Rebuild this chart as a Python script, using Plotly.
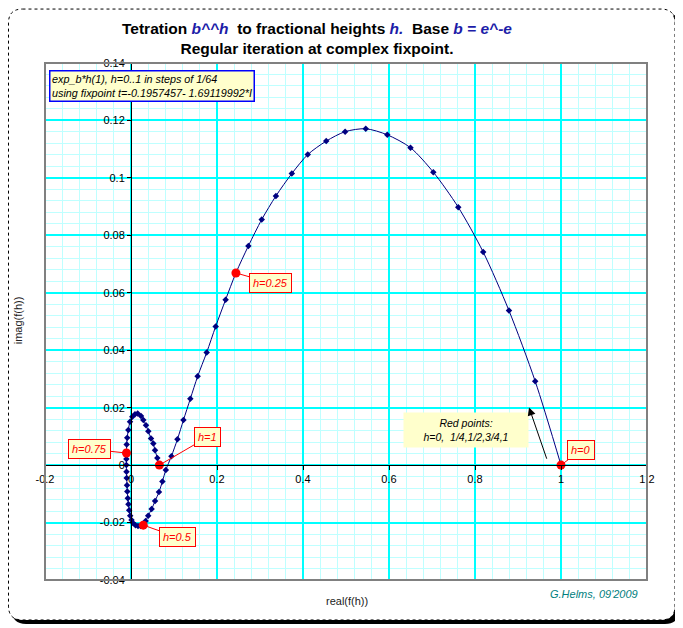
import plotly.graph_objects as go

# f(h) = exp_b^h(1), h = 0..1 in steps of 1/64
h_steps = 64
real_f = [1.000, 0.940, 0.879, 0.819, 0.761, 0.703, 0.650, 0.596, 0.546, 0.498, 0.454, 0.411, 0.374, 0.337, 0.304, 0.273, 0.244,
          0.220, 0.197, 0.176, 0.155, 0.138, 0.122, 0.108, 0.094, 0.081, 0.073, 0.065, 0.056, 0.048, 0.040, 0.034, 0.0286,
          0.0221, 0.0163, 0.0105, 0.0053, 0.0012, -0.0019, -0.0042, -0.0060, -0.0074, -0.0086, -0.0093, -0.0100, -0.0105, -0.0107, -0.0107, -0.0105,
          -0.0100, -0.0088, -0.0063, -0.0023, 0.0030, 0.0093, 0.0156, 0.0233, 0.0286, 0.0349, 0.0402, 0.0465, 0.0519, 0.0558, 0.0612, 0.0660]
imag_f = [0.0, 0.0292, 0.0538, 0.0742, 0.0898, 0.1020, 0.1105, 0.1150, 0.1171, 0.1161, 0.1128, 0.1081, 0.1015, 0.0937, 0.0855, 0.0763, 0.0669,
          0.0576, 0.0483, 0.0392, 0.0309, 0.0231, 0.0157, 0.0090, 0.0031, -0.0017, -0.0057, -0.0094, -0.0125, -0.0153, -0.0176, -0.0195, -0.0209,
          -0.0212, -0.0212, -0.0209, -0.0202, -0.0191, -0.0176, -0.0157, -0.0136, -0.0115, -0.0092, -0.0070, -0.0045, -0.0023, 0.0000, 0.0021, 0.0042,
          0.0072, 0.0095, 0.0122, 0.0151, 0.0168, 0.0177, 0.0180, 0.0171, 0.0157, 0.0139, 0.0118, 0.0093, 0.0075, 0.0052, 0.0025, 0.0]

red_h = [0, 0.25, 0.5, 0.75, 1]
red_labels = ["h=0", "h=0.25", "h=0.5", "h=0.75", "h=1"]

x_ticks = [-0.2, 0, 0.2, 0.4, 0.6, 0.8, 1, 1.2]
x_ticklabels = ["-0.2", "0", "0.2", "0.4", "0.6", "0.8", "1", "1.2"]
y_ticks = [-0.04, -0.02, 0, 0.02, 0.04, 0.06, 0.08, 0.1, 0.12, 0.14]
y_ticklabels = ["-0.04", "-0.02", "0", "0.02", "0.04", "0.06", "0.08", "0.1", "0.12", "0.14"]

W, H = 683, 628
OFF = 8  # page body margin, figure lands 8px right/down in the window
ML, MR, MT, MB = 37, 44, 54.5, 56
PW, PH = W - ML - MR, H - MT - MB
FONT = "Liberation Sans, Arial, sans-serif"
NAVY = "#000080"


def px(x, y):
    # window pixel -> paper coordinates
    return (x - OFF - ML) / PW, (H - MB - (y - OFF)) / PH


def round_rect(x0, y0, x1, y1, r):
    def p(x, y):
        a, b = px(x, y)
        return f"{a:.5f},{b:.5f}"
    return ("M " + p(x0 + r, y0) + " L " + p(x1 - r, y0) + " Q " + p(x1, y0) + " " + p(x1, y0 + r)
            + " L " + p(x1, y1 - r) + " Q " + p(x1, y1) + " " + p(x1 - r, y1)
            + " L " + p(x0 + r, y1) + " Q " + p(x0, y1) + " " + p(x0, y1 - r)
            + " L " + p(x0, y0 + r) + " Q " + p(x0, y0) + " " + p(x0 + r, y0) + " Z")


red_idx = [int(round(h * h_steps)) for h in red_h]
red_x = [real_f[i] for i in red_idx]
red_y = [imag_f[i] for i in red_idx]

fig = go.Figure()
fig.add_trace(go.Scatter(
    x=real_f, y=imag_f, mode="lines+markers",
    line=dict(color=NAVY, width=1, shape="spline", smoothing=0.8),
    marker=dict(symbol="diamond", size=5, color=NAVY),
    showlegend=False,
))
fig.add_trace(go.Scatter(
    x=red_x, y=red_y, mode="markers",
    marker=dict(size=9, color="#FF0000"),
    showlegend=False,
))

# callout boxes for the red points
offsets = [(20, -15), (35, 10), (34, 12), (-37, -4), (48, -28)]
for xv, yv, lab, (dx, dy) in zip(red_x, red_y, red_labels, offsets):
    fig.add_annotation(
        x=xv, y=yv, text="<i>" + lab + "</i>", showarrow=True, ax=dx, ay=dy,
        arrowhead=0, arrowcolor="#FF0000", arrowwidth=1, standoff=3,
        font=dict(family=FONT, size=11, color="#FF0000"),
        bgcolor="#FFFFCC", bordercolor="#FF0000", borderwidth=1, borderpad=3,
    )

# note and its arrow
fig.add_annotation(
    x=0.779, y=0.01235, xref="x", yref="y",
    text="<i>Red points:</i><br><i>h=0,  1/4,1/2,3/4,1</i>", showarrow=False,
    font=dict(family=FONT, size=10.5, color="#000000"),
    bgcolor="#FFFFCC", width=122, height=32, align="center",
)
fig.add_annotation(
    x=0.9256, y=0.0201, ax=0.968, ay=0.0017, axref="x", ayref="y",
    text="", showarrow=True, arrowhead=2, arrowsize=1.6, arrowwidth=1, arrowcolor="#000000",
)

lx, ly = px(48.5, 69.5)
fig.add_annotation(
    x=lx, y=ly, xref="paper", yref="paper", xanchor="left", yanchor="top",
    text="<i>exp_b*h(1), h=0..1 in steps of 1/64</i><br><i>using fixpoint t=-0.1957457- 1.69119992*I</i>",
    showarrow=False, align="left",
    font=dict(family=FONT, size=10.8, color="#000000"),
    bgcolor="#FFFFCC", bordercolor="#0000FF", borderwidth=1.5, borderpad=1.5,
)

blue = "<span style='color:#1C1CA8'><i>"
tx, ty = px(317, 37.5)
fig.add_annotation(
    x=tx, y=ty, xref="paper", yref="paper", xanchor="center", yanchor="middle", showarrow=False,
    text="<b>Tetration " + blue + "b^^h</i></span>  to fractional heights " + blue + "h.</i></span>  Base "
         + blue + "b = e^-e</i></span></b><br><b>Regular iteration at complex fixpoint.</b>",
    font=dict(family=FONT, size=15.5, color="#000000"),
)
ax_x, ax_y = px(347, 601)
fig.add_annotation(x=ax_x, y=ax_y, xref="paper", yref="paper", xanchor="center", yanchor="middle",
                   text="real(f(h))", showarrow=False,
                   font=dict(family=FONT, size=11, color="#222222"))
ay_x, ay_y = px(18, 320)
fig.add_annotation(x=ay_x, y=ay_y, xref="paper", yref="paper", xanchor="center", yanchor="middle",
                   text="imag(f(h))", showarrow=False,
                   textangle=-90, font=dict(family=FONT, size=11, color="#222222"))
cx, cy = px(594, 594)
fig.add_annotation(x=cx, y=cy, xref="paper", yref="paper", xanchor="center", yanchor="middle",
                   text="<i>G.Helms, 09'2009</i>", showarrow=False,
                   font=dict(family=FONT, size=11, color="#008080"))

# outer rounded frame with shadow, and the plot border
fig.add_shape(type="path", path=round_rect(12, 12, 679, 624, 14), xref="paper", yref="paper",
              fillcolor="#000000", line=dict(width=0), layer="below")
fig.add_shape(type="path", path=round_rect(8.5, 8.5, 675, 620, 14), xref="paper", yref="paper",
              fillcolor="#FFFFFF", line=dict(color="#000000", width=1, dash="dot"), layer="below")
fig.add_shape(type="rect", x0=0, y0=0, x1=1, y1=1, xref="paper", yref="paper",
              line=dict(color="#808080", width=2), layer="above")

x_range = [x_ticks[0], x_ticks[-1]]
y_range = [y_ticks[0], y_ticks[-1]]
fig.update_layout(
    width=W, height=H,
    margin=dict(l=ML, r=MR, t=MT, b=MB),
    paper_bgcolor="#FFFFFF", plot_bgcolor="rgba(0,0,0,0)",
    font=dict(family=FONT, size=11, color="#000000"),
    xaxis=dict(
        range=x_range, tickmode="array", tickvals=x_ticks, ticktext=x_ticklabels,
        anchor="free", position=(0 - y_range[0]) / (y_range[1] - y_range[0]),
        showline=True, linecolor="#000000", linewidth=1, ticks="outside", ticklen=4, tickcolor="#000000",
        showgrid=True, gridcolor="#00FFFF", gridwidth=1.5, zeroline=False,
        minor=dict(tickmode="linear", tick0=-0.2, dtick=0.04, showgrid=True, gridcolor="#BFFFFF", gridwidth=1),
        tickfont=dict(family=FONT, size=11, color="#000000"),
    ),
    yaxis=dict(
        range=y_range, tickmode="array", tickvals=y_ticks, ticktext=y_ticklabels,
        anchor="free", position=(0 - x_range[0]) / (x_range[1] - x_range[0]),
        showline=True, linecolor="#000000", linewidth=1, ticks="outside", ticklen=4, tickcolor="#000000",
        showgrid=True, gridcolor="#00FFFF", gridwidth=1.5, zeroline=False,
        minor=dict(tickmode="linear", tick0=-0.04, dtick=0.004, showgrid=True, gridcolor="#BFFFFF", gridwidth=1),
        tickfont=dict(family=FONT, size=11, color="#000000"),
    ),
)

fig.write_html("out.html")
